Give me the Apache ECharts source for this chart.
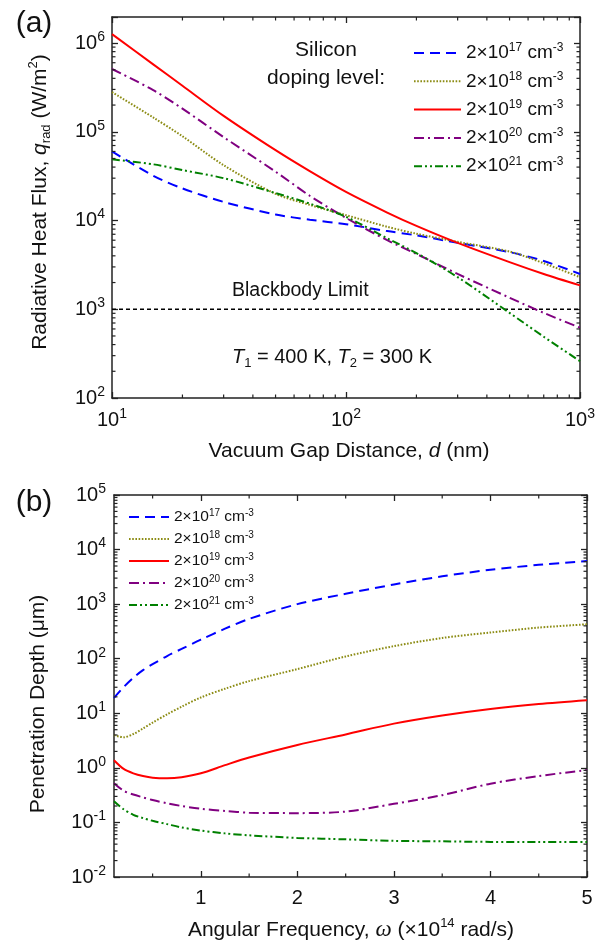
<!DOCTYPE html>
<html><head><meta charset="utf-8">
<script src="https://cdn.jsdelivr.net/npm/echarts@6/dist/echarts.min.js"></script>
<style>html,body{margin:0;padding:0;background:#fff}#c{width:598px;height:947px}</style>
</head><body><div id="c"></div>
<script>
// ---------- data (panel a) ----------
const gapNm = [10, 15, 20, 30, 50, 70, 100, 150, 200, 300, 500, 700, 1000];
const flux17 = [6.0e4, 3.2e4, 2.3e4, 1.62e4, 1.17e4, 1.02e4, 9.1e3, 7.6e3, 6.8e3, 5.6e3, 4.4e3, 3.5e3, 2.5e3];
const flux18 = [2.8e5, 1.45e5, 8.9e4, 4.2e4, 2.0e4, 1.5e4, 1.15e4, 8.5e3, 7.1e3, 5.75e3, 4.47e3, 3.3e3, 2.3e3];
const flux19 = [1.26e6, 5.75e5, 3.3e5, 1.51e5, 6.2e4, 3.6e4, 2.1e4, 1.23e4, 8.7e3, 5.6e3, 3.4e3, 2.5e3, 1.86e3];
const flux20 = [5.1e5, 2.95e5, 1.82e5, 8.7e4, 3.55e4, 1.9e4, 1.07e4, 6.0e3, 4.2e3, 2.5e3, 1.35e3, 9.1e2, 6.2e2];
const flux21 = [4.9e4, 4.3e4, 3.7e4, 3.0e4, 2.04e4, 1.55e4, 1.1e4, 6.3e3, 4.3e3, 2.3e3, 9.1e2, 4.9e2, 2.6e2];
const blackbodyLimit = 1e3;
const gapRange = [10, 1000];
const fluxRange = [1e2, 1.965e6];
// ---------- data (panel b) ----------
const omega = [0.1, 0.2, 0.3, 0.4, 0.5, 0.65, 0.8, 1.0, 1.25, 1.5, 2, 2.5, 3, 3.5, 4, 4.5, 5];
const depth17 = [19.1, 30.2, 44.7, 61.7, 79.4, 112, 151, 224, 355, 537, 1000, 1549, 2291, 3236, 4266, 5248, 6166];
const depth18 = [3.98, 3.63, 4.17, 5.25, 6.76, 9.55, 13.2, 19.5, 28.2, 38.9, 64.6, 110, 170, 240, 302, 372, 427];
const depth19 = [1.38, 0.955, 0.794, 0.708, 0.661, 0.646, 0.676, 0.794, 1.12, 1.55, 2.63, 4.1, 6.46, 9.12, 12.0, 14.8, 17.4];
const depth20 = [0.525, 0.380, 0.324, 0.288, 0.257, 0.224, 0.200, 0.178, 0.162, 0.151, 0.148, 0.158, 0.219, 0.316, 0.513, 0.708, 0.912];
const depth21 = [0.245, 0.174, 0.138, 0.120, 0.107, 0.093, 0.081, 0.071, 0.063, 0.058, 0.052, 0.049, 0.046, 0.045, 0.044, 0.044, 0.044];
const omegaRange = [0.1, 5];
const omegaTicks = [1, 2, 3, 4, 5];
const omegaMinorTicks = [0.5, 1.5, 2.5, 3.5, 4.5];
const depthRange = [1e-2, 1e5];
// ---------- labels ----------
const dopingLabels = ['2×10^17 cm^-3', '2×10^18 cm^-3', '2×10^19 cm^-3', '2×10^20 cm^-3', '2×10^21 cm^-3'];

const FONT = "'Liberation Sans', Arial, Helvetica, sans-serif";
const SERIF = "'Liberation Serif', 'Times New Roman', serif";
const INK = '#111';
const AX = '#222';
const L = Math.log10;

const styles = [
  { color: '#0000ff', type: [10, 6], width: 2 },
  { color: '#8c8c14', type: [1.6, 1.6], width: 2 },
  { color: '#ff0000', type: 'solid', width: 2 },
  { color: '#800080', type: [10, 4, 2, 4], width: 2 },
  { color: '#008000', type: [8, 3, 2, 3, 2, 3], width: 2 }
];

function pairs(xs, ys) { return xs.map((x, i) => [L(x), L(ys[i])]); }
function pairsLin(xs, ys) { return xs.map((x, i) => [x, L(ys[i])]); }

function pow10Label(v) {
  const n = Math.round(v);
  if (Math.abs(v - n) > 1e-6) return '';
  return '10{s|' + n + '}';
}
const supRich = { s: { fontSize: 14, lineHeight: 16, verticalAlign: 'top', fontFamily: FONT, color: INK } };

function logMinors(lo, hi) {
  const out = [];
  for (let n = Math.floor(lo); n <= hi; n++) {
    for (let k = 2; k <= 9; k++) {
      const v = n + L(k);
      if (v > lo + 1e-9 && v < hi - 1e-9) out.push(v);
    }
  }
  return out;
}

function baseAxis(extra) {
  return Object.assign({
    type: 'value',
    axisLine: { show: true, onZero: false, lineStyle: { color: AX, width: 1.5 } },
    axisTick: { show: true, inside: true, length: 6, lineStyle: { color: AX, width: 1.3 } },
    splitLine: { show: false },
    axisLabel: { show: false }
  }, extra);
}
function logLabel(margin) {
  return { show: true, formatter: pow10Label, fontFamily: FONT, fontSize: 20, lineHeight: 26, color: INK, margin: margin, rich: supRich };
}

// minor ticks drawn through the axes' own scales
const MINOR = 3.5;
function minorRenderer(params, api) {
  const v = api.value(0), side = api.value(1);
  const cs = params.coordSys;
  let s;
  if (side === 0) { const y = api.coord([0, v])[1]; s = { x1: cs.x, y1: y, x2: cs.x + MINOR, y2: y }; }
  else if (side === 1) { const y = api.coord([0, v])[1]; s = { x1: cs.x + cs.width, y1: y, x2: cs.x + cs.width - MINOR, y2: y }; }
  else if (side === 2) { const x = api.coord([v, 0])[0]; s = { x1: x, y1: cs.y + cs.height, x2: x, y2: cs.y + cs.height - MINOR }; }
  else { const x = api.coord([v, 0])[0]; s = { x1: x, y1: cs.y, x2: x, y2: cs.y + MINOR }; }
  return { type: 'line', shape: s, style: { stroke: AX, lineWidth: 1.2 } };
}
function minorData(xMinors, yMinors) {
  const d = [];
  yMinors.forEach(v => { d.push([v, 0]); d.push([v, 1]); });
  xMinors.forEach(v => { d.push([v, 2]); d.push([v, 3]); });
  return d;
}

const fluxA = [flux17, flux18, flux19, flux20, flux21];
const depthB = [depth17, depth18, depth19, depth20, depth21];

const series = [];
fluxA.forEach((ys, i) => series.push({
  name: dopingLabels[i], type: 'line', xAxisIndex: 0, yAxisIndex: 0,
  data: pairs(gapNm, ys), showSymbol: false, symbol: 'none', smooth: 0.3,
  lineStyle: styles[i], itemStyle: { color: styles[i].color }, z: 3 + (i === 2 ? 1 : 0)
}));
series.push({
  name: 'Blackbody Limit', type: 'line', xAxisIndex: 0, yAxisIndex: 0,
  data: [[L(gapRange[0]), L(blackbodyLimit)], [L(gapRange[1]), L(blackbodyLimit)]],
  symbol: 'none', lineStyle: { color: '#000', type: [4, 3], width: 1.6 }, z: 2
});
depthB.forEach((ys, i) => series.push({
  name: dopingLabels[i], type: 'line', xAxisIndex: 2, yAxisIndex: 2,
  data: pairsLin(omega, ys), showSymbol: false, symbol: 'none', smooth: 0.3,
  lineStyle: styles[i], itemStyle: { color: styles[i].color }, z: 3
}));
series.push({
  type: 'custom', xAxisIndex: 0, yAxisIndex: 0, silent: true, z: 10,
  renderItem: minorRenderer,
  data: minorData(logMinors(L(gapRange[0]), L(gapRange[1])), logMinors(L(fluxRange[0]), L(fluxRange[1])))
});
series.push({
  type: 'custom', xAxisIndex: 2, yAxisIndex: 2, silent: true, z: 10,
  renderItem: minorRenderer,
  data: minorData(omegaMinorTicks, logMinors(L(depthRange[0]), L(depthRange[1])))
});

function legendFmt(name) { return name.replace(/\^(-?\d+)/g, '{s|$1}'); }
const hiddenSymbol = { color: 'rgba(0,0,0,0)', borderWidth: 0, borderColor: 'rgba(0,0,0,0)', opacity: 0 };

const option = {
  animation: false,
  backgroundColor: '#fff',
  grid: [
    { left: 112, top: 17, width: 474, height: 381 },
    { left: 114, top: 495, width: 473, height: 382 }
  ],
  xAxis: [
    baseAxis({ gridIndex: 0, position: 'bottom', min: L(gapRange[0]), max: L(gapRange[1]), interval: 1, axisLabel: logLabel(9) }),
    baseAxis({ gridIndex: 0, position: 'top', min: L(gapRange[0]), max: L(gapRange[1]), interval: 1 }),
    baseAxis({ gridIndex: 1, position: 'bottom', min: omegaRange[0], max: omegaRange[1],
      axisTick: { show: true, inside: true, length: 6, customValues: omegaTicks, lineStyle: { color: AX, width: 1.3 } },
      axisLabel: { show: true, customValues: omegaTicks, fontFamily: FONT, fontSize: 20, lineHeight: 22, color: INK, margin: 10 } }),
    baseAxis({ gridIndex: 1, position: 'top', min: omegaRange[0], max: omegaRange[1],
      axisTick: { show: true, inside: true, length: 6, customValues: omegaTicks, lineStyle: { color: AX, width: 1.3 } } })
  ],
  yAxis: [
    baseAxis({ gridIndex: 0, position: 'left', min: L(fluxRange[0]), max: L(fluxRange[1]), interval: 1, axisLabel: logLabel(7) }),
    baseAxis({ gridIndex: 0, position: 'right', min: L(fluxRange[0]), max: L(fluxRange[1]), interval: 1 }),
    baseAxis({ gridIndex: 1, position: 'left', min: L(depthRange[0]), max: L(depthRange[1]), interval: 1, axisLabel: logLabel(8) }),
    baseAxis({ gridIndex: 1, position: 'right', min: L(depthRange[0]), max: L(depthRange[1]), interval: 1 })
  ],
  legend: [
    {
      orient: 'vertical', left: 408, top: 37, itemWidth: 47, itemHeight: 12, itemGap: 6.3,
      data: dopingLabels, formatter: legendFmt, selectedMode: false, itemStyle: hiddenSymbol,
      textStyle: { fontFamily: FONT, fontSize: 19, lineHeight: 22, color: INK,
        rich: { s: { fontSize: 12, lineHeight: 14, verticalAlign: 'top', fontFamily: FONT, color: INK } } }
    },
    {
      orient: 'vertical', left: 123, top: 503, itemWidth: 40, itemHeight: 10, itemGap: 4,
      data: dopingLabels, formatter: legendFmt, selectedMode: false, itemStyle: hiddenSymbol,
      textStyle: { fontFamily: FONT, fontSize: 15.5, lineHeight: 18, color: INK,
        rich: { s: { fontSize: 10, lineHeight: 11, verticalAlign: 'top', fontFamily: FONT, color: INK } } }
    }
  ],
  graphic: [
    { type: 'text', x: 34, y: 24, style: { text: '(a)', font: '30px ' + FONT, fill: INK, align: 'center', verticalAlign: 'middle' } },
    { type: 'text', x: 34, y: 503, style: { text: '(b)', font: '30px ' + FONT, fill: INK, align: 'center', verticalAlign: 'middle' } },
    { type: 'text', x: 326, y: 50, style: { text: 'Silicon', font: '21px ' + FONT, fill: INK, align: 'center', verticalAlign: 'middle' } },
    { type: 'text', x: 326, y: 78, style: { text: 'doping level:', font: '21px ' + FONT, fill: INK, align: 'center', verticalAlign: 'middle' } },
    { type: 'text', x: 232, y: 291, style: { text: 'Blackbody Limit', font: '19.5px ' + FONT, fill: INK, align: 'left', verticalAlign: 'middle' } },
    { type: 'text', x: 232, y: 357, style: {
        text: '{i|T}{sub|1} = 400 K, {i|T}{sub|2} = 300 K', fontFamily: FONT, fontSize: 20, lineHeight: 26, fill: INK, align: 'left', verticalAlign: 'middle',
        rich: { i: { fontStyle: 'italic', fontFamily: FONT, fontSize: 20, lineHeight: 26 }, sub: { fontFamily: FONT, fontSize: 13, lineHeight: 14, verticalAlign: 'bottom' } } } },
    { type: 'text', x: 349, y: 451, style: {
        text: 'Vacuum Gap Distance, {i|d} (nm)', fontFamily: FONT, fontSize: 21, lineHeight: 26, fill: INK, align: 'center', verticalAlign: 'middle',
        rich: { i: { fontStyle: 'italic', fontFamily: FONT, fontSize: 21, lineHeight: 26 } } } },
    { type: 'text', x: 40, y: 202, rotation: Math.PI / 2, style: {
        text: 'Radiative Heat Flux, {i|q}{sub|rad} (W/m{sup|2})', fontFamily: FONT, fontSize: 21, lineHeight: 26, fill: INK, align: 'center', verticalAlign: 'middle',
        rich: { i: { fontStyle: 'italic', fontFamily: FONT, fontSize: 21, lineHeight: 26 },
                sub: { fontFamily: FONT, fontSize: 13, lineHeight: 14, verticalAlign: 'bottom' },
                sup: { fontFamily: FONT, fontSize: 13, lineHeight: 15, verticalAlign: 'top' } } } },
    { type: 'text', x: 351, y: 930, style: {
        text: 'Angular Frequency, {w|ω} (×10{sup|14} rad/s)', fontFamily: FONT, fontSize: 21, lineHeight: 26, fill: INK, align: 'center', verticalAlign: 'middle',
        rich: { w: { fontStyle: 'italic', fontFamily: SERIF, fontSize: 23, lineHeight: 26 },
                sup: { fontFamily: FONT, fontSize: 13, lineHeight: 15, verticalAlign: 'top' } } } },
    { type: 'text', x: 38, y: 704, rotation: Math.PI / 2, style: {
        text: 'Penetration Depth (μm)', fontFamily: FONT, fontSize: 21, lineHeight: 26, fill: INK, align: 'center', verticalAlign: 'middle' } }
  ],
  series: series
};

const chart = echarts.init(document.getElementById('c'), null, { renderer: 'canvas' });
chart.setOption(option);
</script>
</body></html>
